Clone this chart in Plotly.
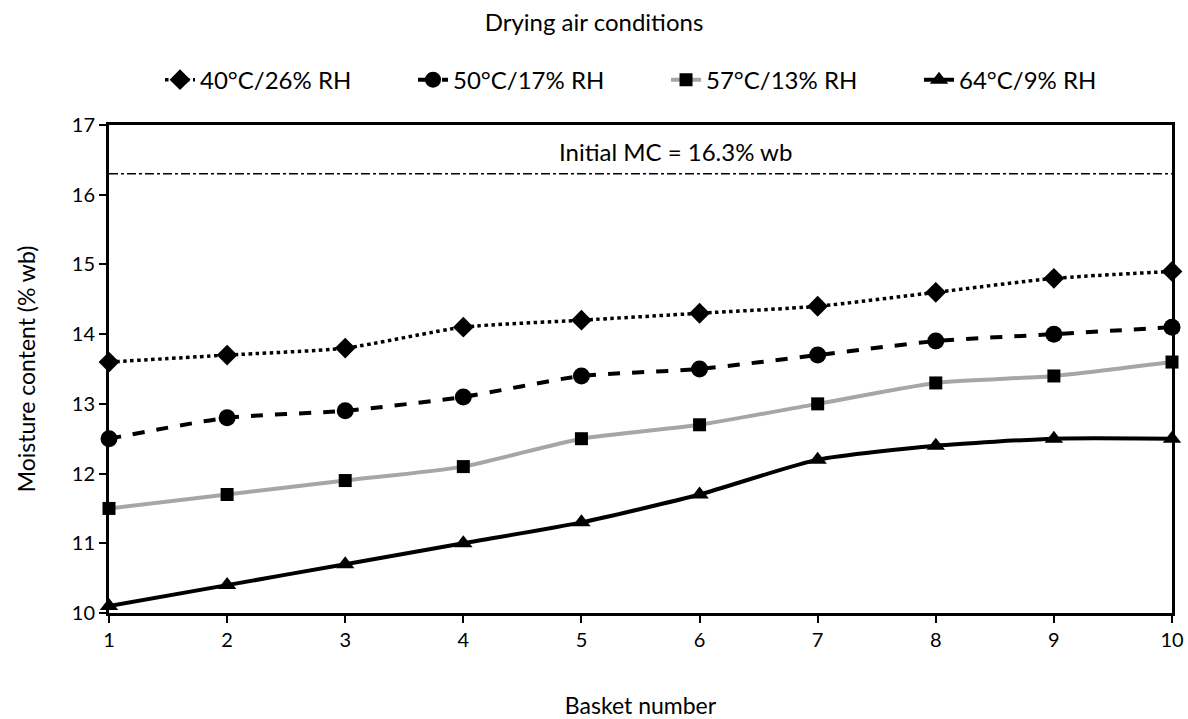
import plotly.graph_objects as go

baskets = [1, 2, 3, 4, 5, 6, 7, 8, 9, 10]
mc_40 = [13.6, 13.7, 13.8, 14.1, 14.2, 14.3, 14.4, 14.6, 14.8, 14.9]
mc_50 = [12.5, 12.8, 12.9, 13.1, 13.4, 13.5, 13.7, 13.9, 14.0, 14.1]
mc_57 = [11.5, 11.7, 11.9, 12.1, 12.5, 12.7, 13.0, 13.3, 13.4, 13.6]
mc_64 = [10.1, 10.4, 10.7, 11.0, 11.3, 11.7, 12.2, 12.4, 12.5, 12.5]
initial_mc = 16.3
names = ["40°C/26% RH", "50°C/17% RH", "57°C/13% RH", "64°C/9% RH"]

FONT = "Lato, 'Open Sans', sans-serif"

fig = go.Figure()
styles = [
    (mc_40, dict(color="black", width=3.5, dash="dot"), dict(symbol="diamond", size=16, color="black")),
    (mc_50, dict(color="black", width=4, dash="dash"), dict(symbol="circle", size=17, color="black")),
    (mc_57, dict(color="#A6A6A6", width=4, dash="solid"), dict(symbol="square", size=13, color="black")),
    (mc_64, dict(color="black", width=4, dash="solid"), dict(symbol="triangle-up", size=16, color="black")),
]
for (vals, line, marker), name in zip(styles, names):
    line = dict(line, shape="spline", smoothing=0.6)
    fig.add_trace(go.Scatter(x=baskets, y=vals, mode="lines+markers", name=name,
                             line=line, marker=marker, cliponaxis=False))

fig.add_trace(go.Scatter(x=[baskets[0], baskets[-1]], y=[initial_mc, initial_mc], mode="lines",
                         line=dict(color="black", width=1.5, dash="dashdot"),
                         showlegend=False, hoverinfo="skip"))

fig.add_annotation(x=5.8, y=16.62, text="Initial MC = 16.3% wb", showarrow=False,
                   font=dict(size=24, color="black", family=FONT), xref="x", yref="y")

fig.update_layout(
    width=1188, height=719,
    margin=dict(l=109, r=16, t=125, b=106),
    paper_bgcolor="white", plot_bgcolor="white",
    font=dict(family=FONT, color="black"),
    title=dict(text="Drying air conditions", x=0.5, xanchor="center", y=0.969, yanchor="middle",
               font=dict(size=24, color="black", family=FONT)),
    legend=dict(orientation="h", x=0.048, xanchor="left", y=1.092, yanchor="middle",
                font=dict(size=24, family=FONT), tracegroupgap=0,
                entrywidth=208, entrywidthmode="pixels",
                bgcolor="rgba(0,0,0,0)"),
    showlegend=True,
)
fig.update_xaxes(range=[1, 10], tickvals=baskets, ticks="outside", ticklen=7, tickwidth=1.5,
                 tickcolor="black", showline=True, linecolor="black", linewidth=3, mirror=True,
                 showgrid=False, zeroline=False, tickfont=dict(size=20), automargin=False,
                 title=dict(text="Basket number", font=dict(size=23), standoff=48))
fig.update_yaxes(range=[10, 17], dtick=1, ticks="outside", ticklen=7, tickwidth=1.5,
                 tickcolor="black", showline=True, linecolor="black", linewidth=3, mirror=True,
                 showgrid=False, zeroline=False, tickfont=dict(size=20), automargin=False,
                 title=dict(text="Moisture content (% wb)", font=dict(size=23), standoff=30))

fig.write_html("out.html")
